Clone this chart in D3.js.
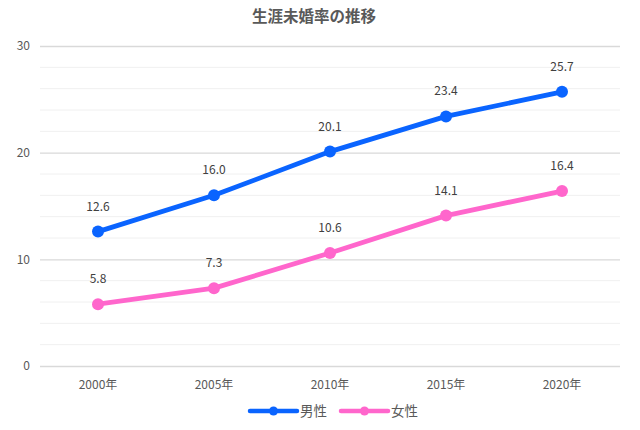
<!DOCTYPE html>
<html><head><meta charset="utf-8">
<script src="https://cdn.jsdelivr.net/npm/d3@7"></script>
<style>body{margin:0;background:#fff}svg{display:block}text{font-family:"Noto Sans CJK JP","Noto Sans",sans-serif}</style>
</head><body><svg id="c" width="640" height="430"></svg>
<script>
const categories = ["2000年","2005年","2010年","2015年","2020年"];
const male = [12.6,16.0,20.1,23.4,25.7];
const female = [5.8,7.3,10.6,14.1,16.4];
const seriesNames = ["男性","女性"];
const yTicks = [0,10,20,30];
const minorTicks = [2,4,6,8,12,14,16,18,22,24,26,28];
const colors = ["#0a64ff","#ff66cc"];

const svg = d3.select("#c");
const x = d3.scaleBand().domain(categories).range([40,620]);
const y = d3.scaleLinear().domain([0,30]).range([366,46]);

svg.append("text").attr("x",314).attr("y",22).attr("text-anchor","middle")
  .attr("font-size",15.5).attr("font-weight","bold").attr("fill","#595959").text("生涯未婚率の推移");

svg.append("g").selectAll("line").data(minorTicks).join("line")
  .attr("x1",40).attr("x2",620).attr("y1",d=>y(d)).attr("y2",d=>y(d))
  .attr("stroke","#f0f0f0").attr("stroke-width",1);

const yAxis = svg.append("g").attr("transform","translate(40,0)")
  .call(d3.axisLeft(y).tickValues(yTicks).tickSize(-580).tickPadding(10));
yAxis.select(".domain").remove();
yAxis.selectAll("line").attr("stroke","#d9d9d9").attr("stroke-width",1.3);
yAxis.selectAll("text").attr("font-size",12).attr("fill","#595959")
  .attr("font-family","\"Noto Sans CJK JP\",sans-serif");

const xAxis = svg.append("g").attr("transform","translate(0,366)")
  .call(d3.axisBottom(x).tickSize(0).tickPadding(14));
xAxis.select(".domain").remove();
xAxis.selectAll("text").attr("font-size",12).attr("fill","#595959")
  .attr("font-family","\"Noto Sans CJK JP\",sans-serif");

const data = [male,female];
const line = d3.line().x((d,i)=>x(categories[i])+x.bandwidth()/2).y(d=>y(d));
data.forEach((s,k)=>{
  const g = svg.append("g");
  g.append("path").datum(s).attr("d",line).attr("fill","none")
    .attr("stroke",colors[k]).attr("stroke-width",4.8).attr("stroke-linejoin","round").attr("stroke-linecap","round");
  g.selectAll("circle").data(s).join("circle")
    .attr("cx",(d,i)=>x(categories[i])+x.bandwidth()/2).attr("cy",d=>y(d)).attr("r",6).attr("fill",colors[k]);
  g.selectAll("text").data(s).join("text")
    .attr("x",(d,i)=>x(categories[i])+x.bandwidth()/2).attr("y",d=>y(d)-21)
    .attr("text-anchor","middle").attr("font-size",12).attr("fill","#404040")
    .text(d=>d.toFixed(1));
});

// legend
const leg = svg.append("g");
const lx = [250,341];
seriesNames.forEach((n,k)=>{
  leg.append("line").attr("x1",lx[k]).attr("x2",lx[k]+47).attr("y1",411).attr("y2",411)
    .attr("stroke",colors[k]).attr("stroke-width",4.5).attr("stroke-linecap","round");
  leg.append("circle").attr("cx",lx[k]+23.5).attr("cy",411).attr("r",4.5).attr("fill",colors[k]);
  leg.append("text").attr("x",lx[k]+50).attr("y",416).attr("font-size",13.5).attr("fill","#595959").text(n);
});
</script></body></html>
